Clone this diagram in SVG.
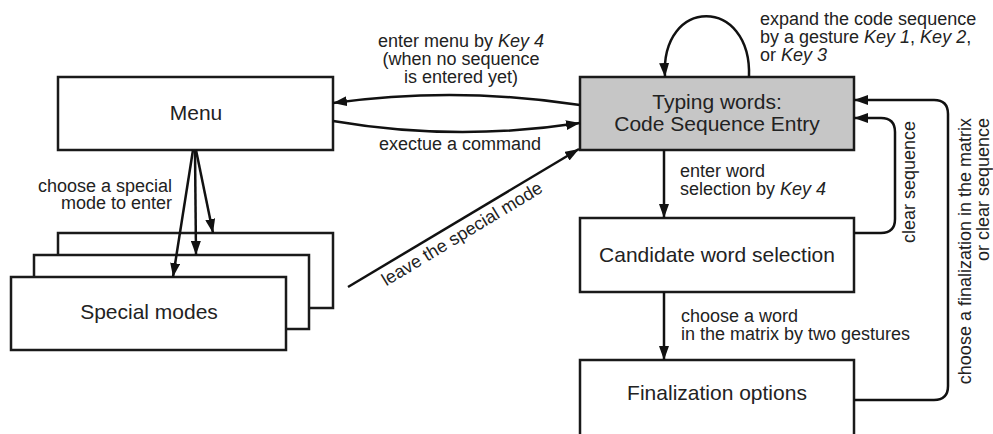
<svg xmlns="http://www.w3.org/2000/svg" width="993" height="434" viewBox="0 0 993 434">
  <defs>
    <marker id="arr" viewBox="0 0 14 10" refX="14" refY="5" markerWidth="14" markerHeight="10" markerUnits="userSpaceOnUse" orient="auto">
      <path d="M0,0 L14,5 L0,10 Z" fill="#111"/>
    </marker>
    <style>
      .box { fill: #ffffff; stroke: #1a1a1a; stroke-width: 2.5; }
      .grey { fill: #c6c6c6; }
      .node { font-family: "Liberation Sans", Arial, sans-serif; font-size: 21px; fill: #222; text-anchor: middle; }
      .lbl { font-family: "Liberation Sans", Arial, sans-serif; font-size: 18px; fill: #222; }
      .conn { fill: none; stroke: #111; stroke-width: 2.5; marker-end: url(#arr); }
    </style>
  </defs>
  <rect width="993" height="434" fill="#ffffff"/>

  <g id="menu">
    <rect class="box" x="58" y="77" width="275" height="73"/>
    <text class="node" x="196" y="120">Menu</text>
  </g>

  <g id="typing">
    <rect class="box grey" x="580" y="77" width="274" height="73"/>
    <text class="node" x="717" y="109">Typing words:</text>
    <text class="node" x="717" y="131">Code Sequence Entry</text>
  </g>

  <g id="candidate">
    <rect class="box" x="580" y="218" width="274" height="74"/>
    <text class="node" x="717" y="262">Candidate word selection</text>
  </g>

  <g id="finalization">
    <rect class="box" x="580" y="360" width="274" height="82"/>
    <text class="node" x="717" y="400">Finalization options</text>
  </g>

  <g id="special-modes">
    <rect class="box" x="58" y="233" width="275" height="75"/>
    <rect class="box" x="34" y="255" width="275" height="74"/>
    <rect class="box" x="11" y="277" width="275" height="73"/>
    <text class="node" x="149" y="319">Special modes</text>
  </g>

  <g id="connectors">
    <path class="conn" d="M580,105 Q456,86 333,103"/>
    <path class="conn" d="M333,121 Q456,142 580,123"/>
    <path class="conn" d="M749,77 C752,-4 660,-4 665,77"/>
    <path class="conn" d="M664,150 L664,218"/>
    <path class="conn" d="M664,292 L664,360"/>
    <path class="conn" d="M854,233 H881 Q895,233 895,219 V132 Q895,118 881,118 H854"/>
    <path class="conn" d="M854,400 H934 Q948,400 948,386 V114 Q948,100 934,100 H854"/>
    <path class="conn" d="M348,287 L579,149"/>
    <path class="conn" d="M193,150 L173,277"/>
    <path class="conn" d="M195,150 L196,255"/>
    <path class="conn" d="M196,150 L213,233"/>
  </g>

  <g id="labels">
    <text class="lbl" x="461" y="47" text-anchor="middle">enter menu by <tspan font-style="italic">Key 4</tspan></text>
    <text class="lbl" x="461" y="65" text-anchor="middle">(when no sequence</text>
    <text class="lbl" x="461" y="83" text-anchor="middle">is entered yet)</text>
    <text class="lbl" x="460" y="150" text-anchor="middle">exectue a command</text>
    <text class="lbl" x="760" y="25">expand the code sequence</text>
    <text class="lbl" x="760" y="43">by a gesture <tspan font-style="italic">Key 1</tspan>, <tspan font-style="italic">Key 2</tspan>,</text>
    <text class="lbl" x="760" y="61">or <tspan font-style="italic">Key 3</tspan></text>
    <text class="lbl" x="680" y="177">enter word</text>
    <text class="lbl" x="680" y="195">selection by <tspan font-style="italic">Key 4</tspan></text>
    <text class="lbl" x="681" y="322">choose a word</text>
    <text class="lbl" x="681" y="340">in the matrix by two gestures</text>
    <text class="lbl" x="172" y="192" text-anchor="end">choose a special</text>
    <text class="lbl" x="172" y="209" text-anchor="end">mode to enter</text>
    <text class="lbl" text-anchor="middle" transform="translate(465,239) rotate(-31.1)">leave the special mode</text>
    <text class="lbl" text-anchor="middle" transform="translate(915,182) rotate(-90)">clear sequence</text>
    <text class="lbl" text-anchor="end" transform="translate(971,118) rotate(-90)">choose a finalization in the matrix</text>
    <text class="lbl" text-anchor="end" transform="translate(989,118) rotate(-90)">or clear sequence</text>
  </g>
</svg>
